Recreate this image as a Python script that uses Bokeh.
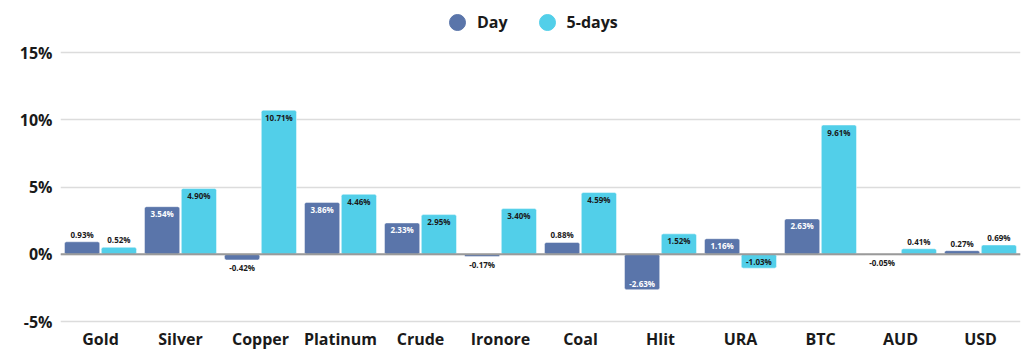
from bokeh.plotting import figure
from bokeh.models import (FactorRange, Range1d, FixedTicker, PrintfTickFormatter, Span,
                          ColumnDataSource, Legend, LegendItem)
from bokeh.transform import dodge
from bokeh.embed import file_html
from bokeh.resources import INLINE
from bokeh.core.properties import value

categories = ["Gold", "Silver", "Copper", "Platinum", "Crude", "Ironore", "Coal",
              "Hlit", "URA", "BTC", "AUD", "USD"]
day = [0.93, 3.54, -0.42, 3.86, 2.33, -0.17, 0.88, -2.63, 1.16, 2.63, -0.05, 0.27]
five_days = [0.52, 4.90, 10.71, 4.46, 2.95, 3.40, 4.59, 1.52, -1.03, 9.61, 0.41, 0.69]
series_names = ["Day", "5-days"]
y_ticks = [-5, 0, 5, 10, 15]

DAY_COLOR = "#5a75aa"
FIVE_COLOR = "#52cfe9"
DARK = "#1a1a1a"
FONT = "Open Sans"

p = figure(x_range=FactorRange(factors=categories, range_padding=0),
           y_range=Range1d(-5.22, 18.87),
           width=1024, height=362, output_backend="svg", toolbar_location=None,
           min_border_left=60, min_border_right=4, min_border_top=0, min_border_bottom=38)
p.outline_line_color = None
p.background_fill_color = "white"
p.border_fill_color = "white"
p.xgrid.grid_line_color = None
p.ygrid.grid_line_color = "#dcdcdc"
p.ygrid.grid_line_width = 1.5

def label_table(vals, inside_color):
    texts, offs, colors = [], [], []
    for v in vals:
        texts.append(f"{v:.2f}%")
        inside = abs(v) >= 1.0
        if v >= 0:
            offs.append(7 if inside else -7.5)
        else:
            offs.append(-6.5 if inside else 7.5)
        colors.append(inside_color if inside else DARK)
    return dict(cat=categories, val=vals, text=texts, yoff=offs, color=colors)

src_day = ColumnDataSource(label_table(day, "white"))
src_five = ColumnDataSource(label_table(five_days, DARK))

for src, off, col in [(src_day, -0.23, DAY_COLOR), (src_five, 0.23, FIVE_COLOR)]:
    p.vbar(x=dodge("cat", off, range=p.x_range), top="val", bottom=0, width=0.44,
           source=src, fill_color=col, line_color="white", line_alpha=0.45, line_width=1,
           border_radius=2)

p.add_layout(Span(location=0, dimension="width", line_color="#9a9a9a", line_width=2))

for src, off in [(src_day, -0.23), (src_five, 0.23)]:
    p.text(x=dodge("cat", off, range=p.x_range), y="val", text="text", source=src,
           y_offset="yoff", text_color="color", text_align="center", text_baseline="middle",
           text_font=value(FONT), text_font_size="8px", text_font_style="bold")

# legend proxies (zero-size markers on the real data)
r1 = p.scatter(x=dodge("cat", -0.23, range=p.x_range), y="val", source=src_day, size=0,
               marker="circle", fill_color=DAY_COLOR, line_color=DAY_COLOR)
r2 = p.scatter(x=dodge("cat", 0.23, range=p.x_range), y="val", source=src_five, size=0,
               marker="circle", fill_color=FIVE_COLOR, line_color=FIVE_COLOR)
legend = Legend(items=[LegendItem(label=series_names[0], renderers=[r1]),
                       LegendItem(label=series_names[1], renderers=[r2])],
                orientation="horizontal", location=(377, 282),
                glyph_width=40, glyph_height=40, label_height=40, label_standoff=0,
                spacing=19, padding=0, margin=0,
                background_fill_alpha=0, border_line_color=None,
                label_text_font=FONT, label_text_font_size="16px",
                label_text_font_style="bold", label_text_color=DARK)
p.add_layout(legend)

p.yaxis.ticker = FixedTicker(ticks=y_ticks)
p.yaxis.formatter = PrintfTickFormatter(format="%d%%")
for ax in (p.xaxis, p.yaxis):
    ax.axis_line_color = None
    ax.major_tick_line_color = None
    ax.minor_tick_line_color = None
    ax.major_tick_out = 0
    ax.major_tick_in = 0
    ax.minor_tick_out = 0
    ax.major_label_text_font = FONT
    ax.major_label_text_font_size = "16px"
    ax.major_label_text_font_style = "bold"
    ax.major_label_text_color = DARK
p.yaxis.major_label_standoff = 8
p.xaxis.major_label_standoff = 3

open("out.html", "w").write(file_html(p, INLINE))
